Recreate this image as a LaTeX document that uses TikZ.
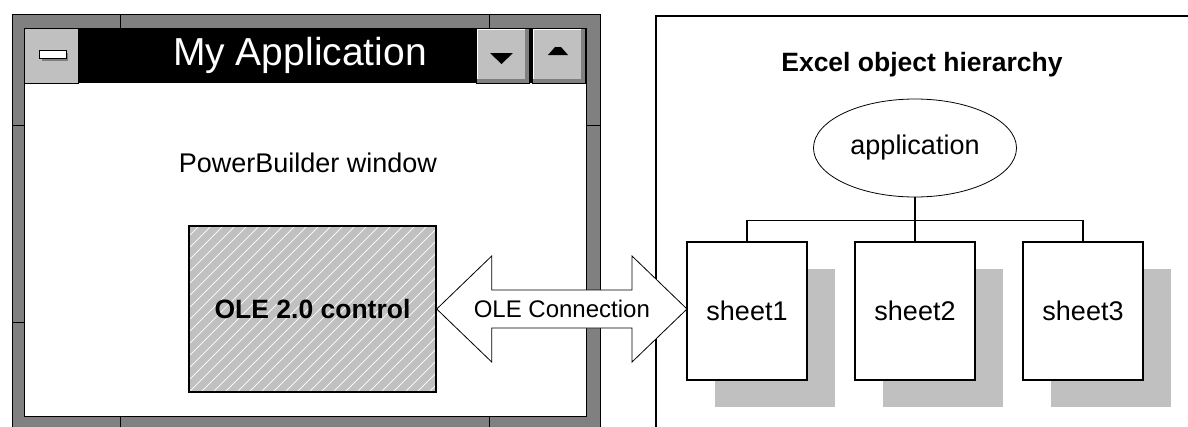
\documentclass[tikz,border=0pt]{standalone}
\usepackage{fontspec}
\setmainfont{Liberation Sans}
\usetikzlibrary{arrows.meta,positioning,shapes.geometric,shadows,calc}
\definecolor{framegray}{HTML}{808080}
\definecolor{facegray}{HTML}{C0C0C0}

\begin{document}
\begin{tikzpicture}[x=1pt, y=-1pt,
  normaltext/.style={font=\fontsize{27}{30}\selectfont},
  heading/.style={font=\bfseries\fontsize{26.5}{30}\selectfont},
  hatched/.style={path picture={
    \foreach \k in {-180,-168,...,264}
      \draw[white, line width=0.7pt] ([xshift=\k pt]path picture bounding box.south west) -- ++(200,-200);
  }},
  olebox/.style={draw, line width=1.4pt, fill=facegray, minimum width=247pt, minimum height=166pt, hatched, heading},
  sheetbox/.style={draw, line width=1.6pt, fill=white, minimum width=120pt, minimum height=138pt, inner sep=0pt, outer sep=0pt, normaltext,
    drop shadow={shadow xshift=28pt, shadow yshift=-27pt, fill=facegray, opacity=1}},
  tree/.style={line width=1.6pt},
  conn/.style={draw, fill=white, line width=0.8pt, line join=miter}]

\clip (0,0) rectangle (1188,426);

% window frame with its resize corners
\draw[fill=framegray, line width=0.9pt] (12,14) rectangle (600,440);
\foreach \x in {120,489} {
  \draw[line width=0.9pt] (\x,14) -- (\x,28);
  \draw[line width=0.9pt] (\x,416) -- (\x,440);
}
\foreach \y in {125,322} {
  \draw[line width=0.9pt] (12,\y) -- (24,\y);
  \draw[line width=0.9pt] (586,\y) -- (600,\y);
}
\draw[fill=white, line width=0.9pt] (24,28) rectangle (586,416);

% title bar
\fill (24,28) rectangle (586,83);
\node[font=\fontsize{39}{44}\selectfont, text=white] (apptitle) at (300,55) {My Application};

% control menu box
\draw[fill=facegray, line width=0.9pt] (24,28) rectangle (78,83);
\fill[framegray] (42,53) rectangle (68,61);
\draw[fill=white, line width=1pt] (39,50) rectangle (66,58);

% min and max buttons
\foreach \bx in {476,532} {
  \fill[framegray] (\bx,28) rectangle (\bx+53,83);
  \fill[white] (\bx,28) rectangle (\bx+49,79);
  \fill[facegray] (\bx+2,30) rectangle (\bx+49,79);
  \draw[line width=0.9pt] (\bx,28) rectangle (\bx+53,83);
}
\fill (490,53) -- (513,53) -- (501.5,64) -- cycle;
\fill (548,55) -- (568,55) -- (561,47) -- (555,47) -- cycle;

% contents of the window
\node[normaltext] (pbwin) at (308,163) {PowerBuilder window};
\node[olebox] (ole) at (312.5,309) {OLE 2.0 control};

% excel side
\draw[line width=1.4pt] (656,440) -- (656,16) -- (1200,16);
\node[heading] (excel) at (922,65) {Excel object hierarchy};
\node[ellipse, draw, line width=0.8pt, minimum width=203pt, minimum height=98pt, normaltext] (app) at (915,148) {application};

\node[sheetbox] (sheet1) at (747,311) {sheet1};
\node[sheetbox, right=48pt of sheet1] (sheet2) {sheet2};
\node[sheetbox, right=48pt of sheet2] (sheet3) {sheet3};

\draw[tree] (app.south) -- ++(0,23) coordinate (bus);
\draw[tree] (sheet1.north) |- (bus) -| (sheet3.north);
\draw[tree] (bus) -- (sheet2.north);

% the OLE connection, a fat double arrow
\coordinate (rtip) at (ole.east -| sheet1.west);
\draw[conn] (ole.east) -- ++(55,-53) -- ++(0,34) -- ($(rtip)+(-55,-19)$) -- ++(0,-34) -- (rtip)
  -- ++(-55,53) -- ++(0,-34) -- ($(ole.east)+(55,19)$) -- ++(0,34) -- cycle;
\node[font=\fontsize{24}{28}\selectfont] (connlbl) at ($(ole.east)!0.5!(rtip)$) {OLE Connection};

\end{tikzpicture}
\end{document}
